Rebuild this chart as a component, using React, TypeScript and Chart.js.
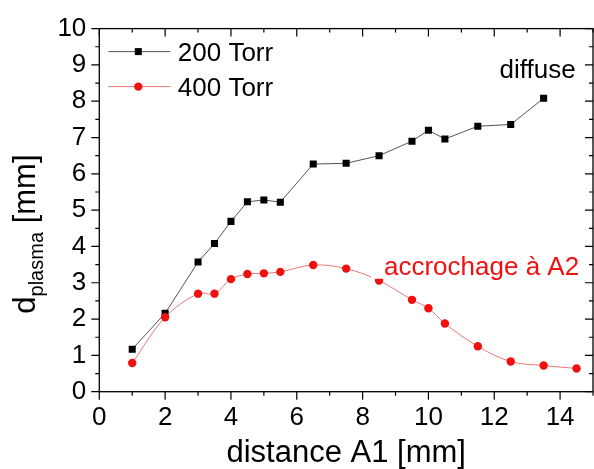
import React, { useEffect, useRef } from "react";
import { Chart, registerables } from "chart.js";

Chart.register(...registerables);

// ---- data ----
const x200: number[] = [1, 2, 3, 3.5, 4, 4.5, 5, 5.5, 6.5, 7.5, 8.5, 9.5, 10, 10.5, 11.5, 12.5, 13.5];
const y200: number[] = [1.17, 2.16, 3.57, 4.08, 4.69, 5.23, 5.28, 5.22, 6.27, 6.29, 6.5, 6.9, 7.2, 6.96, 7.31, 7.36, 8.08];
const x400: number[] = [1, 2, 3, 3.5, 4, 4.5, 5, 5.5, 6.5, 7.5, 8.5, 9.5, 10, 10.5, 11.5, 12.5, 13.5, 14.5];
const y400: number[] = [0.79, 2.05, 2.7, 2.7, 3.1, 3.24, 3.26, 3.3, 3.49, 3.39, 3.06, 2.53, 2.3, 1.88, 1.25, 0.83, 0.72, 0.64];
const xTickValues: number[] = [0, 2, 4, 6, 8, 10, 12, 14];
const seriesNames: string[] = ["200 Torr", "400 Torr"];
const xTitle = "distance A1 [mm]";
const yTitleMain = "d";
const yTitleSub = "plasma";
const yTitleUnit = " [mm]";
const noteDiffuse = "diffuse";
const noteAccroche = "accrochage à A2";

const FONT = "'Liberation Sans', Arial, sans-serif";
const BLACK_LINE = "#555555";
const RED_LINE = "#e87777";
const RED = "#f01010";

const framePlugin = {
  id: "frame",
  afterDraw(chart: any) {
    const { ctx, chartArea: a, scales } = chart;
    const xs = scales.x, ys = scales.y;
    ctx.save();
    ctx.strokeStyle = "#000";
    ctx.lineWidth = 1.3;
    ctx.strokeRect(a.left, a.top, a.right - a.left, a.bottom - a.top);
    ctx.lineWidth = 1.2;
    ctx.beginPath();
    for (let v = 0; v <= 15; v += 1) {
      const px = xs.getPixelForValue(v);
      const len = v % 2 === 0 ? 8 : 4;
      ctx.moveTo(px, a.bottom);
      ctx.lineTo(px, a.bottom + len);
      ctx.moveTo(px, a.top);
      ctx.lineTo(px, a.top + len);
    }
    for (let v = 0; v <= 10; v += 0.5) {
      const py = ys.getPixelForValue(v);
      const len = Number.isInteger(v) ? 8 : 4;
      ctx.moveTo(a.left, py);
      ctx.lineTo(a.left - len, py);
      ctx.moveTo(a.right, py);
      ctx.lineTo(a.right - len, py);
    }
    ctx.stroke();

    // y axis title with subscript
    ctx.fillStyle = "#000";
    ctx.textBaseline = "alphabetic";
    ctx.textAlign = "left";
    ctx.translate(35, a.bottom - 78);
    ctx.rotate(-Math.PI / 2);
    ctx.font = `31px ${FONT}`;
    ctx.fillText(yTitleMain, 0, 0);
    let w = ctx.measureText(yTitleMain).width;
    ctx.font = `20px ${FONT}`;
    ctx.fillText(yTitleSub, w, 8);
    w += ctx.measureText(yTitleSub).width;
    ctx.font = `31px ${FONT}`;
    ctx.fillText(yTitleUnit, w, 0);
    ctx.restore();
  },
  afterDatasetsDraw(chart: any) {
    const { ctx, chartArea: a, scales } = chart;
    const xs = scales.x, ys = scales.y;
    ctx.save();
    // legend
    const rows = [
      { y: a.top + 23, color: BLACK_LINE, mark: "#000", square: true },
      { y: a.top + 58, color: RED_LINE, mark: RED, square: false },
    ];
    rows.forEach((r, i) => {
      ctx.strokeStyle = r.color;
      ctx.lineWidth = 1;
      ctx.beginPath();
      ctx.moveTo(a.left + 9, r.y);
      ctx.lineTo(a.left + 71, r.y);
      ctx.stroke();
      ctx.fillStyle = r.mark;
      const cx = a.left + 39;
      if (r.square) {
        ctx.fillRect(cx - 3.5, r.y - 3.5, 7, 7);
      } else {
        ctx.beginPath();
        ctx.arc(cx, r.y, 4.2, 0, Math.PI * 2);
        ctx.fill();
      }
      ctx.fillStyle = "#000";
      ctx.font = `26px ${FONT}`;
      ctx.textBaseline = "alphabetic";
      ctx.textAlign = "left";
      ctx.fillText(seriesNames[i], a.left + 78.5, r.y + 9.5);
    });

    // annotations
    ctx.font = `26px ${FONT}`;
    ctx.fillStyle = "#000";
    ctx.fillText(noteDiffuse, xs.getPixelForValue(12.16), ys.getPixelForValue(8.63));

    const ax = xs.getPixelForValue(8.65);
    const ay = ys.getPixelForValue(3.22);
    ctx.fillStyle = "#ffffff";
    ctx.fillRect(ax - 13, ay - 28, 230, 32);
    ctx.fillStyle = RED;
    ctx.fillText(noteAccroche, ax, ay);
    ctx.restore();
  },
};

export default function App() {
  const ref = useRef<HTMLCanvasElement | null>(null);
  useEffect(() => {
    if (!ref.current) return;
    const chart = new Chart(ref.current, {
      type: "line",
      data: {
        datasets: [
          {
            label: seriesNames[0],
            data: x200.map((x, i) => ({ x, y: y200[i] })),
            borderColor: BLACK_LINE,
            borderWidth: 1,
            pointStyle: "rect",
            pointRadius: 5,
            pointBackgroundColor: "#000",
            pointBorderColor: "#000",
            pointBorderWidth: 0,
            tension: 0,
            order: 1,
          },
          {
            label: seriesNames[1],
            data: x400.map((x, i) => ({ x, y: y400[i] })),
            borderColor: RED_LINE,
            borderWidth: 1,
            pointStyle: "circle",
            pointRadius: 4.2,
            pointBackgroundColor: RED,
            pointBorderColor: RED,
            pointBorderWidth: 0,
            tension: 0.35,
            order: 0,
          },
        ],
      },
      options: {
        responsive: false,
        animation: false,
        layout: { padding: { top: 26.7, right: 2.2, left: 0, bottom: 0 } },
        plugins: { legend: { display: false }, tooltip: { enabled: false } },
        scales: {
          x: {
            type: "linear",
            min: 0,
            max: 15,
            grid: { display: false, drawTicks: false },
            border: { display: false },
            afterBuildTicks: (s: any) => {
              s.ticks = xTickValues.map((v) => ({ value: v }));
            },
            afterFit: (s: any) => {
              s.height = 77.3;
            },
            ticks: {
              padding: 11,
              color: "#000",
              font: { family: FONT, size: 26 },
              maxRotation: 0,
              autoSkip: false,
            },
            title: {
              display: true,
              text: xTitle,
              color: "#000",
              font: { family: FONT, size: 31, lineHeight: 1 },
              padding: { top: 0, bottom: 0 },
            },
          },
          y: {
            type: "linear",
            min: 0,
            max: 10,
            grid: { display: false, drawTicks: false },
            border: { display: false },
            afterFit: (s: any) => {
              s.width = 99.3;
            },
            ticks: {
              stepSize: 1,
              padding: 13,
              color: "#000",
              font: { family: FONT, size: 26 },
            },
          },
        },
      },
      plugins: [framePlugin],
    });
    return () => chart.destroy();
  }, []);
  return (
    <div style={{ position: "fixed", left: 0, top: 0, width: 594, height: 469, overflow: "hidden", background: "#fff" }}>
      <canvas ref={ref} width={598} height={469} style={{ display: "block" }} />
    </div>
  );
}
